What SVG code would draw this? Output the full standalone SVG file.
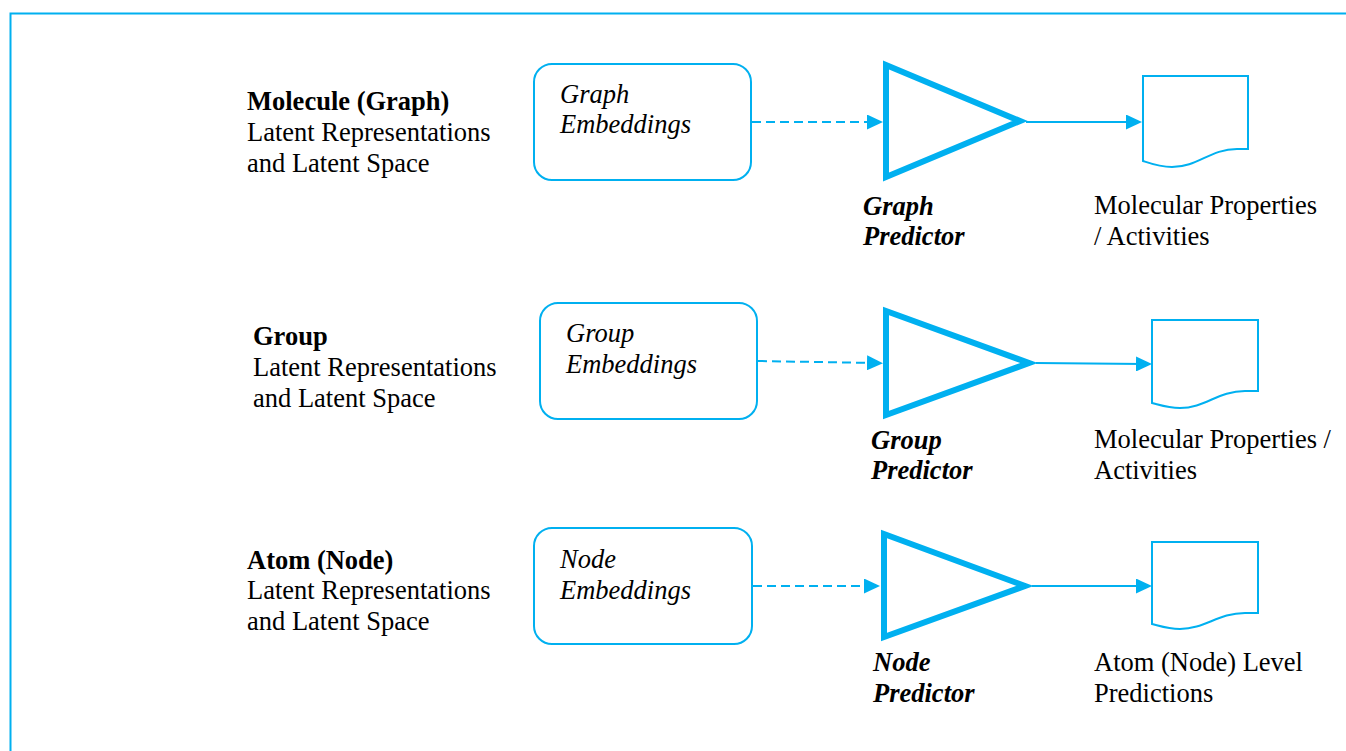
<svg xmlns="http://www.w3.org/2000/svg" width="1346" height="751" viewBox="0 0 1346 751">
<defs>
<marker id="ah" markerWidth="16" markerHeight="15" refX="8" refY="7.5" orient="auto" markerUnits="userSpaceOnUse"><path d="M0,0 L16,7.5 L0,15 Z" fill="#00B0F0"/></marker>
<style>
.t{font-family:"Liberation Serif","Times New Roman",serif;font-size:26.5px;fill:#000}
.b{font-weight:bold}
.i{font-style:italic}
.box{fill:#fff;stroke:#00B0F0;stroke-width:2}
.tri{fill:#fff;stroke:#00B0F0;stroke-width:6;stroke-linejoin:miter}
.doc{fill:#fff;stroke:#00B0F0;stroke-width:2}
.dash{stroke:#00B0F0;stroke-width:2;stroke-dasharray:9 5;fill:none}
.sol{stroke:#00B0F0;stroke-width:2;fill:none}
</style>
</defs>
<rect x="10.5" y="13.5" width="1400" height="800" fill="none" stroke="#00B0F0" stroke-width="2"/>

<g id="label1">
<text class="t b" x="247" y="110">Molecule (Graph)</text>
<text class="t" x="247" y="141">Latent Representations</text>
<text class="t" x="247" y="172">and Latent Space</text>
</g>
<g id="graphEmb">
<rect class="box" x="534" y="64" width="217" height="116" rx="18"/>
<text class="t i" x="560" y="103">Graph</text>
<text class="t i" x="560" y="133">Embeddings</text>
</g>
<g id="graphPred">
<polygon class="tri" points="886,65 886,177 1020,121"/>
<text class="t b i" x="863" y="215">Graph</text>
<text class="t b i" x="863" y="245">Predictor</text>
</g>
<g id="out1">
<path class="doc" d="M1143,76 H1248 V149 H1237 C1210,149 1198,167 1172,167 C1160,167 1152,164 1143,161 Z"/>
<text class="t" x="1094" y="214">Molecular Properties</text>
<text class="t" x="1094" y="245">/ Activities</text>
</g>

<g id="label2">
<text class="t b" x="253" y="345">Group</text>
<text class="t" x="253" y="376">Latent Representations</text>
<text class="t" x="253" y="407">and Latent Space</text>
</g>
<g id="groupEmb">
<rect class="box" x="540" y="303" width="217" height="116" rx="18"/>
<text class="t i" x="566" y="342">Group</text>
<text class="t i" x="566" y="373">Embeddings</text>
</g>
<g id="groupPred">
<polygon class="tri" points="886,311 886,415 1029,363"/>
<text class="t b i" x="871" y="449">Group</text>
<text class="t b i" x="871" y="479">Predictor</text>
</g>
<g id="out2">
<path class="doc" d="M1152,320 H1258 V391 H1245 C1218,391 1205,408 1180,408 C1168,408 1160,405 1152,403 Z"/>
<text class="t" x="1094" y="448">Molecular Properties /</text>
<text class="t" x="1094" y="479">Activities</text>
</g>

<g id="label3">
<text class="t b" x="247" y="569">Atom (Node)</text>
<text class="t" x="247" y="599">Latent Representations</text>
<text class="t" x="247" y="630">and Latent Space</text>
</g>
<g id="nodeEmb">
<rect class="box" x="534" y="528" width="218" height="116" rx="18"/>
<text class="t i" x="560" y="568">Node</text>
<text class="t i" x="560" y="599">Embeddings</text>
</g>
<g id="nodePred">
<polygon class="tri" points="884,534 884,637 1025,586"/>
<text class="t b i" x="873" y="671">Node</text>
<text class="t b i" x="873" y="702">Predictor</text>
</g>
<g id="out3">
<path class="doc" d="M1152,542 H1258 V613 H1245 C1218,613 1205,629 1180,629 C1168,629 1160,626 1152,624 Z"/>
<text class="t" x="1094" y="671">Atom (Node) Level</text>
<text class="t" x="1094" y="702">Predictions</text>
</g>

<g id="connectors">
<line class="dash" x1="752" y1="122" x2="875" y2="122" marker-end="url(#ah)"/>
<line class="sol" x1="1026" y1="122" x2="1134" y2="122" marker-end="url(#ah)"/>
<line class="dash" x1="758" y1="361" x2="875" y2="363" marker-end="url(#ah)"/>
<line class="sol" x1="1036" y1="363" x2="1144" y2="364" marker-end="url(#ah)"/>
<line class="dash" x1="753" y1="586" x2="872" y2="586" marker-end="url(#ah)"/>
<line class="sol" x1="1032" y1="586" x2="1144" y2="586" marker-end="url(#ah)"/>
</g>
</svg>
